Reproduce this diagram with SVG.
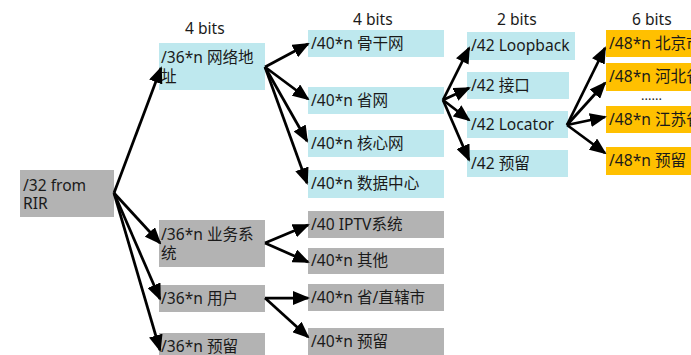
<svg xmlns="http://www.w3.org/2000/svg" width="691" height="355" viewBox="0 0 691 355">
<style>
text{font-family:"Noto Sans","Noto Sans CJK SC",sans-serif;font-size:15.6px;fill:#1a1a1a}
.c{fill:#BEE8EE}
.g{fill:#B3B3B3}
.o{fill:#FFC000}
.conn line{stroke:#000;stroke-width:2.75;marker-end:url(#ah)}
</style>
<defs>
<marker id="ah" markerUnits="userSpaceOnUse" markerWidth="17" markerHeight="14" refX="15" refY="7" orient="auto" viewBox="0 0 17 14">
<path d="M0,0 L17,7 L0,14 z" fill="#000"/>
</marker>
</defs>
<rect width="691" height="355" fill="#fff"/>
<g id="headers">
<text x="185" y="34">4 bits</text>
<text x="353" y="25">4 bits</text>
<text x="497" y="25">2 bits</text>
<text x="632" y="25">6 bits</text>
</g>
<g id="root"><rect class="g" x="20" y="170" width="94" height="47"/><text x="23"><tspan x="23" y="191">/32 from</tspan><tspan x="23" y="209">RIR</tspan></text></g>
<g id="n36-net"><rect class="c" x="159" y="43" width="106" height="47"/><text><tspan x="161" y="63">/36*n 网络地</tspan><tspan x="161" y="82">址</tspan></text></g>
<g id="n36-svc"><rect class="g" x="159" y="220" width="106" height="47"/><text><tspan x="161" y="240">/36*n 业务系</tspan><tspan x="161" y="259">统</tspan></text></g>
<g id="n36-user"><rect class="g" x="159" y="285" width="106" height="27"/><text x="161" y="304">/36*n 用户</text></g>
<g id="n36-res"><rect class="g" x="159" y="333" width="106" height="30"/><text x="161" y="352">/36*n 预留</text></g>
<g id="n40-bb"><rect class="c" x="308" y="30" width="136" height="27"/><text x="311" y="49">/40*n 骨干网</text></g>
<g id="n40-prov"><rect class="c" x="308" y="87" width="136" height="27"/><text x="311" y="106">/40*n 省网</text></g>
<g id="n40-core"><rect class="c" x="308" y="130" width="136" height="27"/><text x="311" y="149">/40*n 核心网</text></g>
<g id="n40-dc"><rect class="c" x="308" y="170" width="136" height="28"/><text x="311" y="189">/40*n 数据中心</text></g>
<g id="n40-iptv"><rect class="g" x="308" y="211" width="136" height="27"/><text x="311" y="230">/40 IPTV系统</text></g>
<g id="n40-other"><rect class="g" x="308" y="248" width="136" height="26"/><text x="311" y="266">/40*n 其他</text></g>
<g id="n40-city"><rect class="g" x="308" y="284" width="136" height="27"/><text x="311" y="303">/40*n 省/直辖市</text></g>
<g id="n40-res"><rect class="g" x="308" y="328" width="136" height="27"/><text x="311" y="347">/40*n 预留</text></g>
<g id="n42-lb"><rect class="c" x="467" y="32" width="108" height="28"/><text x="471" y="51">/42 Loopback</text></g>
<g id="n42-if"><rect class="c" x="467" y="72" width="102" height="27"/><text x="471" y="91">/42 接口</text></g>
<g id="n42-loc"><rect class="c" x="467" y="111" width="101" height="27"/><text x="471" y="130">/42 Locator</text></g>
<g id="n42-res"><rect class="c" x="467" y="150" width="101" height="27"/><text x="471" y="169">/42 预留</text></g>
<g id="n48-bj"><rect class="o" x="606" y="30" width="90" height="27"/><text x="609" y="49">/48*n 北京市</text></g>
<g id="n48-hb"><rect class="o" x="606" y="63" width="90" height="28"/><text x="609" y="82">/48*n 河北省</text></g>
<g id="dots"><text x="641" y="100" style="font-size:13px">......</text></g>
<g id="n48-js"><rect class="o" x="606" y="106" width="90" height="27"/><text x="609" y="125">/48*n 江苏省</text></g>
<g id="n48-res"><rect class="o" x="606" y="147" width="90" height="28"/><text x="609" y="166">/48*n 预留</text></g>
<g class="conn" id="connectors">
<line x1="114" y1="193" x2="161" y2="68"/>
<line x1="114" y1="193" x2="160" y2="243"/>
<line x1="114" y1="193" x2="160" y2="299"/>
<line x1="114" y1="193" x2="160" y2="350"/>
<line x1="265" y1="67" x2="308" y2="44"/>
<line x1="265" y1="67" x2="308" y2="99"/>
<line x1="265" y1="67" x2="307" y2="141"/>
<line x1="265" y1="67" x2="307" y2="183"/>
<line x1="265" y1="243" x2="308" y2="225"/>
<line x1="265" y1="243" x2="308" y2="262"/>
<line x1="265" y1="298" x2="308" y2="298"/>
<line x1="265" y1="298" x2="308" y2="337"/>
<line x1="443" y1="100" x2="469" y2="48"/>
<line x1="443" y1="100" x2="469" y2="88"/>
<line x1="443" y1="100" x2="469" y2="120"/>
<line x1="443" y1="100" x2="469" y2="160"/>
<line x1="567" y1="125" x2="605" y2="48"/>
<line x1="567" y1="125" x2="605" y2="83"/>
<line x1="567" y1="125" x2="605" y2="117"/>
<line x1="567" y1="125" x2="605" y2="153"/>
</g>
</svg>
